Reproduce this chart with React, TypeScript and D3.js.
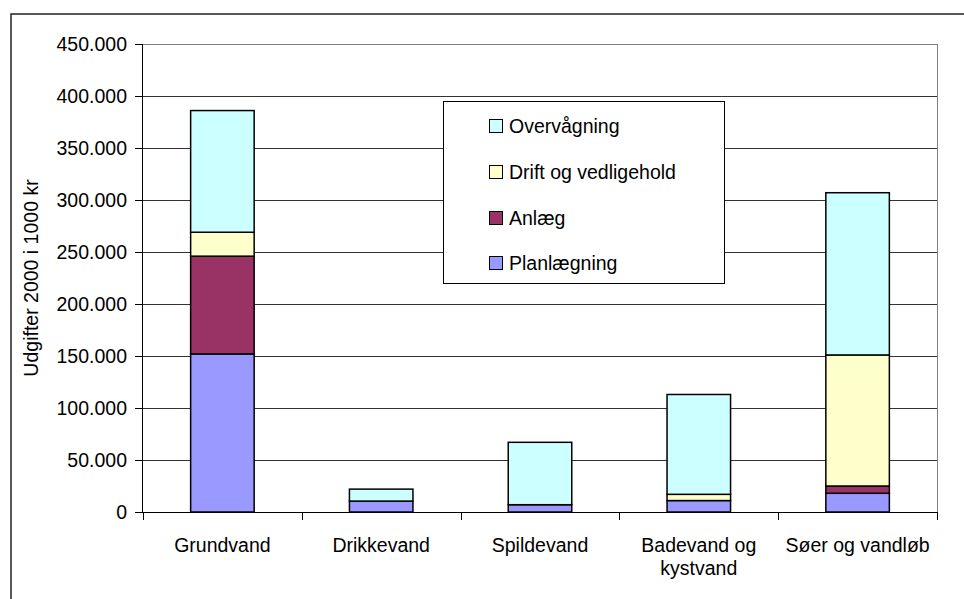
import React from "react";
import * as d3 from "d3";

const categories = ["Grundvand", "Drikkevand", "Spildevand", "Badevand og\nkystvand", "Søer og vandløb"];
const planlaegning = [152000, 10500, 7000, 11000, 18000];
const anlaeg = [94000, 0, 0, 0, 7000];
const drift = [23000, 0, 0, 6000, 126000];
const overvaagning = [117000, 11500, 60000, 96000, 156000];
const seriesNames = ["Planlægning", "Anlæg", "Drift og vedligehold", "Overvågning"];
const seriesColors = ["#9999FF", "#993366", "#FFFFCC", "#CCFFFF"];
const yTicks = [0, 50000, 100000, 150000, 200000, 250000, 300000, 350000, 400000, 450000];
const yTitle = "Udgifter 2000 i 1000 kr";

const W = 964, H = 599;
const FONT = "'Liberation Sans', Arial, sans-serif";
const FS = 19.5;

export default function App() {
  const x = d3.scaleBand<string>().domain(categories).range([143, 937]).paddingInner(0.6).paddingOuter(0.3);
  const y = d3.scaleLinear().domain([0, 450000]).range([512, 44]);
  const seriesData = [planlaegning, anlaeg, drift, overvaagning];
  const rows = categories.map((c, i) => {
    const r: any = { cat: c };
    seriesNames.forEach((s, j) => (r[s] = seriesData[j][i]));
    return r;
  });
  const stacked = d3.stack<any>().keys(seriesNames)(rows);
  const fmt = (v: number) => (v === 0 ? "0" : d3.format(",")(v).replace(/,/g, "."));
  const step = x.step();
  const bounds = categories.map((_, i) => 143 + i * step).concat([937]);

  const legendOrder = [3, 2, 1, 0];
  const legendY = [126, 172, 218, 263];

  return (
    <svg width={W} height={H} style={{ position: "absolute", left: 0, top: 0, background: "#fff" }} fontFamily={FONT}>
      <rect x={0} y={0} width={W} height={H} fill="#fff" />
      <path d={`M11,${H} V14 H${W}`} fill="none" stroke="#222" strokeWidth={1.5} />
      {/* gridlines */}
      {yTicks.slice(1).map((t) => (
        <line key={t} x1={143} x2={937} y1={Math.round(y(t)) + 0.5} y2={Math.round(y(t)) + 0.5} stroke={t === 450000 ? "#808080" : "#333"} strokeWidth={1} />
      ))}
      <line x1={937.5} x2={937.5} y1={44} y2={512} stroke="#808080" strokeWidth={1} />
      {/* bars */}
      {stacked.map((layer, j) => (
        <g key={layer.key}>
          {layer.map((d, i) =>
            d[1] - d[0] > 0 ? (
              <rect key={i} x={x(categories[i])!} y={y(d[1])} width={x.bandwidth()} height={y(d[0]) - y(d[1])} fill={seriesColors[j]} stroke="#000" strokeWidth={1.5} />
            ) : null
          )}
        </g>
      ))}
      {/* axes */}
      <line x1={142.5} x2={142.5} y1={44} y2={512} stroke="#000" strokeWidth={1} />
      <line x1={143} x2={938} y1={512.5} y2={512.5} stroke="#000" strokeWidth={1} />
      {yTicks.map((t) => (
        <g key={t}>
          <line x1={135} x2={143} y1={Math.round(y(t)) + 0.5} y2={Math.round(y(t)) + 0.5} stroke="#000" />
          <text x={127} y={y(t)} dy="0.35em" textAnchor="end" fontSize={FS} fill="#000">{fmt(t)}</text>
        </g>
      ))}
      {bounds.map((b, i) => (
        <line key={i} x1={Math.round(b) + 0.5} x2={Math.round(b) + 0.5} y1={512} y2={520} stroke="#000" />
      ))}
      {categories.map((c) => (
        <text key={c} x={x(c)! + x.bandwidth() / 2} y={552} textAnchor="middle" fontSize={FS} fill="#000">
          {c.split("\n").map((l, k) => (
            <tspan key={k} x={x(c)! + x.bandwidth() / 2} dy={k === 0 ? 0 : 23}>{l}</tspan>
          ))}
        </text>
      ))}
      <text transform={`translate(38,${(y(0) + y(450000)) / 2}) rotate(-90)`} textAnchor="middle" fontSize={FS} fill="#000">{yTitle}</text>
      {/* legend */}
      <rect x={443.5} y={101.5} width={281} height={182} fill="#fff" stroke="#000" strokeWidth={1} />
      {legendOrder.map((j, k) => (
        <g key={j}>
          <rect x={489.5} y={legendY[k] - 6.5} width={13} height={13} fill={seriesColors[j]} stroke="#000" strokeWidth={1} />
          <text x={509} y={legendY[k]} dy="0.35em" fontSize={FS} fill="#000">{seriesNames[j]}</text>
        </g>
      ))}
    </svg>
  );
}
